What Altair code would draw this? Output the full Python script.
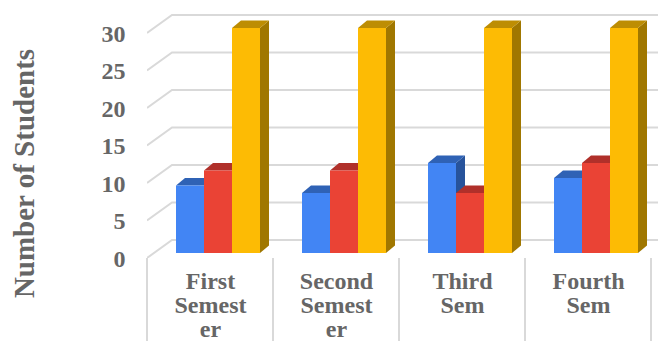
import altair as alt
import pandas as pd

groups = [["First", "Semest", "er"], ["Second", "Semest", "er"], ["Third", "Sem"], ["Fourth", "Sem"]]
blue = [9, 8, 12, 10]
red = [11, 11, 8, 12]
yellow = [30, 30, 30, 30]
series = [
    (blue, "#4285f4", "#2f62b5", "#27539b"),
    (red, "#ea4335", "#b0302a", "#a82c25"),
    (yellow, "#fdbb04", "#bd8d03", "#a07700"),
]
y_ticks = [0, 5, 10, 15, 20, 25, 30]

# scale: one x unit is one category; one y unit is one student
BAR_W = 28 / 126
BAR_START = 29 / 126
DEPTH_X = 9 / 126
DEPTH_Y = 1.0
WALL_X = 25 / 126
WALL_Y = 2.4
V0 = -5 / 7.5
X_MAX = 511 / 126
Y_MAX = 32.67

x_scale = alt.Scale(domain=[0, X_MAX], nice=False, zero=False)
y_scale = alt.Scale(domain=[V0, Y_MAX], nice=False, zero=False)
label_expr = "[" + ",".join("[" + ",".join(f"'{w}'" for w in g) + "]" for g in groups) + "][floor(datum.value)]"
x_axis = alt.Axis(
    values=[0.5, 1.5, 2.5, 3.5], labelExpr=label_expr, title=None, grid=False, domain=False, ticks=False,
    labelFont="Liberation Serif", labelFontWeight="bold", labelFontSize=24, labelColor="#666666",
    labelPadding=11, labelLineHeight=24, labelAngle=0, labelBaseline="top", labelOverlap=False, labelFlush=False)
y_axis = alt.Axis(
    values=y_ticks, title="Number of Students", grid=False, domain=False, ticks=False,
    labelFont="Liberation Serif", labelFontWeight="bold", labelFontSize=24, labelColor="#666666",
    labelPadding=22, labelOffset=6, titleFont="Liberation Serif", titleFontWeight="bold", titleFontSize=29,
    titleColor="#666666", titleX=-108, titleY=165)
x_enc = alt.X("x:Q", scale=x_scale, axis=x_axis)
y_enc = alt.Y("y:Q", scale=y_scale, axis=y_axis)
GRID = "#d9d9d9"

layers = []

# back wall lines and their diagonals
wall = []
for t in y_ticks:
    f = t + V0
    wall += [dict(x=0, y=f, k=t), dict(x=WALL_X, y=f + WALL_Y, k=t), dict(x=5.0, y=f + WALL_Y, k=t)]
layers.append(
    alt.Chart(pd.DataFrame(wall)).mark_line(color=GRID, strokeWidth=2, clip=True).encode(
        x=x_enc, y=y_enc, detail="k:N"
    )
)

# vertical category separators, running below the floor
seps = pd.DataFrame({"x": [0, 1, 2, 3, 4]})
layers.append(
    alt.Chart(seps).mark_rule(color=GRID, strokeWidth=2).encode(
        x=x_enc, y=alt.value(250), y2=alt.value(340)
    )
)

# the bars, drawn left to right: side, top, then front
for s, (vals, front, top, side) in enumerate(series):
    side_rows, top_rows, front_rows = [], [], []
    for g, v in enumerate(vals):
        x0 = g + BAR_START + s * BAR_W
        x1 = x0 + BAR_W
        side_rows += [dict(x=x1, y=v, y2=0, k=g), dict(x=x1 + DEPTH_X, y=v + DEPTH_Y, y2=DEPTH_Y, k=g)]
        top_rows += [
            dict(x=x0, y=v, y2=v, k=g),
            dict(x=x0 + DEPTH_X, y=v + DEPTH_Y, y2=v, k=g),
            dict(x=x1, y=v + DEPTH_Y, y2=v, k=g),
            dict(x=x1 + DEPTH_X, y=v + DEPTH_Y, y2=v + DEPTH_Y, k=g),
        ]
        front_rows.append(dict(x=x0, x2=x1, y=v, y2=0))
    layers.append(alt.Chart(pd.DataFrame(side_rows)).mark_area(color=side).encode(
        x=x_enc, y=y_enc, y2="y2:Q", detail="k:N"))
    layers.append(alt.Chart(pd.DataFrame(top_rows)).mark_area(color=top).encode(
        x=x_enc, y=y_enc, y2="y2:Q", detail="k:N"))
    layers.append(alt.Chart(pd.DataFrame(front_rows)).mark_rect(color=front).encode(
        x=x_enc, x2="x2:Q", y=y_enc, y2="y2:Q"))

chart = alt.layer(*layers).properties(
    width=511, height=250,
    autosize=alt.AutoSizeParams(type="none"),
    padding={"left": 139, "top": 0, "right": 0, "bottom": 83},
).configure_view(stroke=None)

chart.save("out.html", embed_options={"renderer": "svg", "actions": False})
